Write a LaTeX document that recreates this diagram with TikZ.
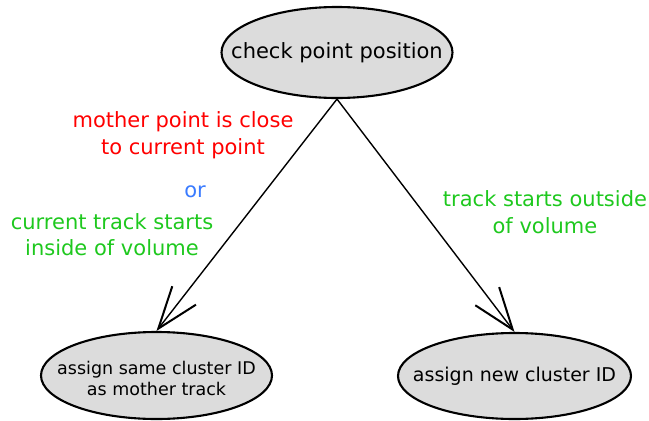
\documentclass[tikz,border=0pt]{standalone}
\usepackage{fontspec}
\setmainfont{DejaVu Sans}
\usetikzlibrary{shapes.geometric,arrows.meta}
\definecolor{condred}{HTML}{FF0000}
\definecolor{condgreen}{HTML}{1EC81E}
\definecolor{condblue}{HTML}{3A7BFF}
\definecolor{statefill}{HTML}{DCDCDC}
\tikzset{
  state/.style={ellipse, draw=black, line width=2.1pt, fill=statefill,
    inner sep=0pt},
  statetext/.style={align=center, inner sep=0pt, text=black},
  cond/.style={align=center, inner sep=0pt},
  flow/.style={line width=1.4pt,
    -{Straight Barb[length=42pt,width=30pt,line width=2pt]}},
}
\begin{document}
\begin{tikzpicture}[x=1pt,y=-1pt]
  \useasboundingbox (0,0) rectangle (649,421);
  % states: fixed-size ellipses with the text laid on top
  \node[state, minimum width=231pt, minimum height=91pt,
        label={[statetext, font=\fontsize{21}{25}\selectfont]center:check point position}]
        (check) at (337,52.5) {};
  \node[state, minimum width=231pt, minimum height=87pt,
        label={[statetext, font=\fontsize{17.5}{21}\selectfont, yshift=-3pt]center:assign same cluster ID\\as mother track}]
        (same) at (156.5,375.5) {};
  \node[state, minimum width=233pt, minimum height=86pt,
        label={[statetext, font=\fontsize{19}{23}\selectfont]center:assign new cluster ID}]
        (new) at (514.5,376) {};
  % transitions
  \draw[flow] (check.south) -- (same.north);
  \draw[flow] (check.south) -- (new.north);
  % conditions
  \node[cond, text=condred, font=\fontsize{21}{27}\selectfont] (closecond) at (183,135)
        {mother point is close\\to current point};
  \node[cond, text=condblue, font=\fontsize{21}{26}\selectfont, anchor=base] (orword) at (195,197) {or};
  \node[cond, text=condgreen, font=\fontsize{21}{26}\selectfont] (insidecond) at (112,234.5)
        {current track starts\\inside of volume};
  \node[cond, text=condgreen, font=\fontsize{21}{27}\selectfont] (outsidecond) at (545,212)
        {track starts outside\\of volume};
\end{tikzpicture}
\end{document}
